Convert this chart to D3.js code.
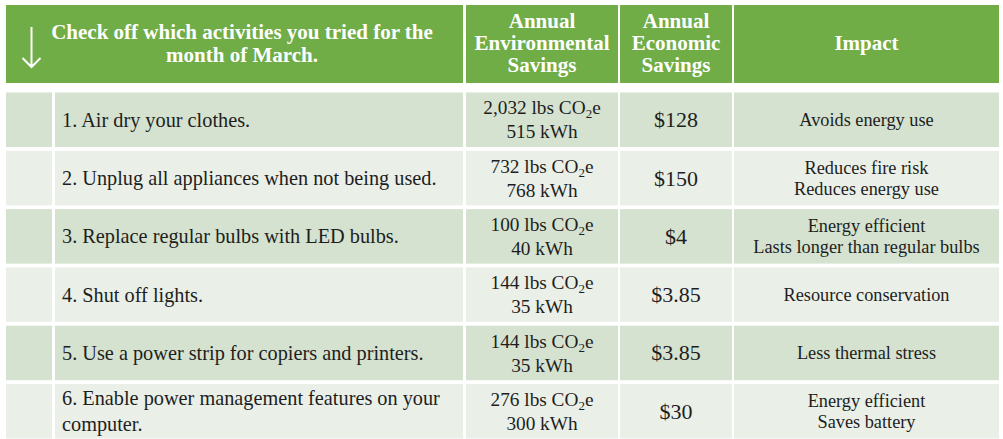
<!DOCTYPE html>
<html>
<head>
<meta charset="utf-8">
<script src="https://cdn.jsdelivr.net/npm/d3@7"></script>
<style>
  body { margin: 0; background: #fff; }
  svg { display: block; }
  text { font-family: "Liberation Serif", "DejaVu Serif", serif; fill: #1e1e1e; }
</style>
</head>
<body>
<svg id="mainSvg"></svg>
<script>
var WIDTH = 1003;
var HEIGHT = 439;

// table content
var HEADERS = [
  ["Check off which activities you tried for the", "month of March."],
  ["Annual", "Environmental", "Savings"],
  ["Annual", "Economic", "Savings"],
  ["Impact"]
];
var ACTIVITIES = [
  ["1. Air dry your clothes."],
  ["2. Unplug all appliances when not being used."],
  ["3. Replace regular bulbs with LED bulbs."],
  ["4. Shut off lights."],
  ["5. Use a power strip for copiers and printers."],
  ["6. Enable power management features on your", "computer."]
];
var CO2_LBS = ["2,032", "732", "100", "144", "144", "276"];
var KWH = ["515", "768", "40", "35", "35", "300"];
var ECON = ["$128", "$150", "$4", "$3.85", "$3.85", "$30"];
var IMPACTS = [
  ["Avoids energy use"],
  ["Reduces fire risk", "Reduces energy use"],
  ["Energy efficient", "Lasts longer than regular bulbs"],
  ["Resource conservation"],
  ["Less thermal stress"],
  ["Energy efficient", "Saves battery"]
];

var GREEN = "#70ad47";
var ROW_FILLS = ["#d5e2cf", "#eaf0e8"];

// column edges: check box | activity | env | econ | impact
var COLS = [
  { x0: 6, x1: 52 },
  { x0: 55, x1: 463 },
  { x0: 466, x1: 618 },
  { x0: 620, x1: 732 },
  { x0: 734, x1: 999 }
];
var HEAD_TOP = 5, HEAD_BOTTOM = 83;

var svg = d3.select("#mainSvg")
  .attr("width", WIDTH)
  .attr("height", HEIGHT);

var y = d3.scaleBand()
  .domain(d3.range(ACTIVITIES.length))
  .range([92.5, 438.5])
  .paddingInner(0.065);

function cx(c) { return (COLS[c].x0 + COLS[c].x1) / 2; }

// draws lines of text centred vertically on midY
function multiline(g, lines, x, midY, lh, anchor) {
  var n = lines.length;
  lines.forEach(function (s, k) {
    g.append("text")
      .attr("x", x)
      .attr("y", midY + (k - (n - 1) / 2) * lh)
      .attr("dy", "0.34em")
      .attr("text-anchor", anchor || "middle")
      .text(s);
  });
}

// header
var head = svg.append("g").attr("class", "header");
var headCells = [
  { x0: COLS[0].x0, x1: COLS[1].x1 },
  COLS[2], COLS[3], COLS[4]
];
head.selectAll("rect")
  .data(headCells)
  .enter().append("rect")
  .attr("x", function (d) { return d.x0; })
  .attr("y", HEAD_TOP)
  .attr("width", function (d) { return d.x1 - d.x0; })
  .attr("height", HEAD_BOTTOM - HEAD_TOP)
  .attr("fill", GREEN);

var headMid = (HEAD_TOP + HEAD_BOTTOM) / 2;
var headX = [242, cx(2), cx(3), cx(4)];
var headLH = [23, 22, 22, 22];
HEADERS.forEach(function (lines, i) {
  var g = head.append("g")
    .style("font-weight", "bold")
    .style("font-size", "21px");
  multiline(g, lines, headX[i], headMid - 1, headLH[i]);
  g.selectAll("text").style("fill", "#fff");
});

// down arrow
head.append("path")
  .attr("d", "M31.5,27 V67 M22.5,58 L31.5,67 L40.5,58")
  .attr("fill", "none")
  .attr("stroke", "#fff")
  .attr("stroke-width", 2);

// body rows
var rows = svg.selectAll(".row")
  .data(ACTIVITIES)
  .enter().append("g")
  .attr("class", "row");

rows.each(function (d, i) {
  var g = d3.select(this);
  var top = y(i), h = y.bandwidth(), mid = top + h / 2;
  COLS.forEach(function (c) {
    g.append("rect")
      .attr("x", c.x0)
      .attr("y", top)
      .attr("width", c.x1 - c.x0)
      .attr("height", h)
      .attr("fill", ROW_FILLS[i % 2]);
  });

  var act = g.append("g").style("font-size", "20.3px");
  multiline(act, ACTIVITIES[i], 62, mid, 26, "start");

  // environmental savings, with subscript 2
  var env = g.append("g").style("font-size", "19.3px");
  var t1 = env.append("text")
    .attr("x", cx(2))
    .attr("y", mid - 12)
    .attr("dy", "0.34em")
    .attr("text-anchor", "middle");
  t1.append("tspan").text(CO2_LBS[i] + " lbs CO");
  t1.append("tspan").attr("dy", 4).style("font-size", "13px").text("2");
  t1.append("tspan").attr("dy", -4).text("e");
  env.append("text")
    .attr("x", cx(2))
    .attr("y", mid + 12)
    .attr("dy", "0.34em")
    .attr("text-anchor", "middle")
    .text(KWH[i] + " kWh");

  var eco = g.append("g").style("font-size", "22px");
  multiline(eco, [ECON[i]], cx(3), mid, 22);

  var imp = g.append("g").style("font-size", "18.3px");
  multiline(imp, IMPACTS[i], cx(4), mid, 21);
});
</script>
</body>
</html>
